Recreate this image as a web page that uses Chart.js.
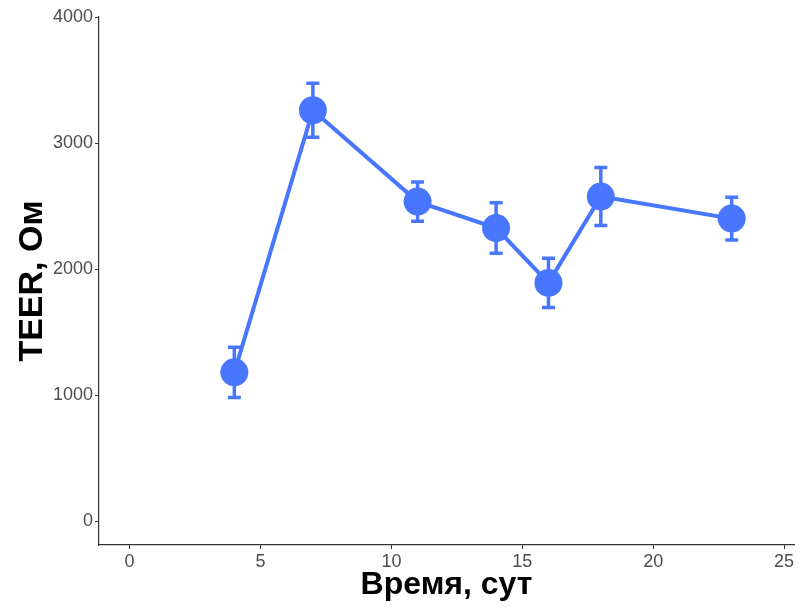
<!DOCTYPE html>
<html>
<head>
<meta charset="utf-8">
<script src="https://cdn.jsdelivr.net/npm/chart.js@4/dist/chart.umd.min.js"></script>
<style>
  html, body { margin: 0; padding: 0; background: #fff; }
  #wrap { width: 810px; height: 608px; }
</style>
</head>
<body>
<div id="wrap"><canvas id="teerChart" width="810" height="608"></canvas></div>
<script>
const days = [4, 7, 11, 14, 16, 18, 23];
const teer = [1180, 3260, 2535, 2325, 1890, 2575, 2400];
const teerErr = [200, 215, 155, 200, 195, 230, 170];
const xTicks = [0, 5, 10, 15, 20, 25];
const yTicks = [0, 1000, 2000, 3000, 4000];

const lineColor = '#4876FF';
const fontFamily = '"Liberation Sans", Arial, sans-serif';
const tickFont = { family: fontFamily, size: 18 };

// error bars drawn through the chart's own scales
const errorBars = {
    id: 'errorBars',
    beforeDatasetsDraw(chart) {
        const { ctx, scales: { x, y } } = chart;
        ctx.save();
        ctx.strokeStyle = lineColor;
        ctx.lineWidth = 3.5;
        days.forEach((d, i) => {
            const px = x.getPixelForValue(d);
            const top = y.getPixelForValue(teer[i] + teerErr[i]);
            const bot = y.getPixelForValue(teer[i] - teerErr[i]);
            ctx.beginPath();
            ctx.moveTo(px, top); ctx.lineTo(px, bot);
            ctx.moveTo(px - 6.5, top); ctx.lineTo(px + 6.5, top);
            ctx.moveTo(px - 6.5, bot); ctx.lineTo(px + 6.5, bot);
            ctx.stroke();
        });
        ctx.restore();
    }
};

new Chart(document.getElementById('teerChart'), {
    type: 'scatter',
    data: {
        datasets: [{
            data: days.map((d, i) => ({ x: d, y: teer[i] })),
            showLine: true,
            borderColor: lineColor,
            backgroundColor: lineColor,
            borderWidth: 4,
            pointRadius: 12,
            pointHoverRadius: 12,
            tension: 0,
        }],
    },
    options: {
        responsive: false,
        animation: false,
        layout: { padding: { top: 17, right: 5, left: 0, bottom: 0 } },
        plugins: { legend: { display: false }, tooltip: { enabled: false } },
        scales: {
            x: {
                type: 'linear',
                min: -1.17,
                max: 25.38,
                afterBuildTicks: s => { s.ticks = xTicks.map(v => ({ value: v })); },
                afterFit: s => { s.height = 63; },
                grid: { drawOnChartArea: false, tickLength: 4, color: '#333' },
                border: { color: '#333', width: 1.2 },
                ticks: { color: '#4d4d4d', font: tickFont, padding: 2, maxRotation: 0, callback: v => String(v) },
                title: { display: true, text: 'Время, сут', color: '#000', font: { family: fontFamily, size: 32, weight: 'bold' }, padding: { top: 0 } },
            },
            y: {
                min: -190,
                max: 4000,
                afterBuildTicks: s => { s.ticks = yTicks.map(v => ({ value: v })); },
                afterFit: s => { s.width = 99; },
                grid: { drawOnChartArea: false, tickLength: 4, color: '#333' },
                border: { color: '#333', width: 1.2 },
                ticks: { color: '#4d4d4d', font: tickFont, padding: 2, callback: v => String(v) },
                title: { display: true, text: 'TEER, Ом', color: '#000', font: { family: fontFamily, size: 34, weight: 'bold' }, padding: { top: 12, bottom: 0 } },
            },
        },
    },
    plugins: [errorBars],
});
</script>
</body>
</html>
